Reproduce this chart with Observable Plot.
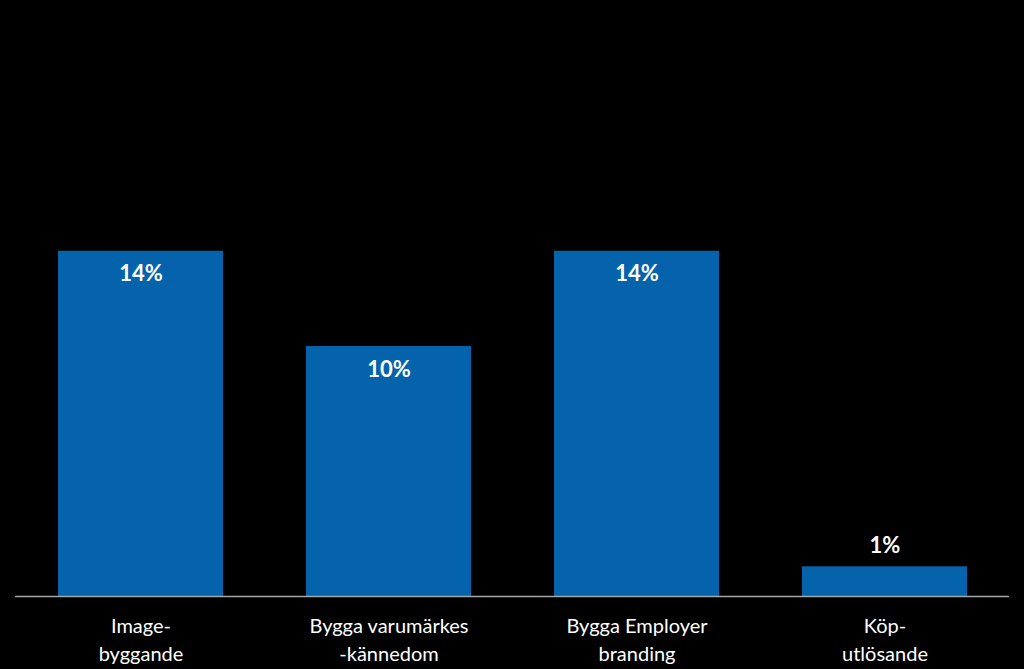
<!DOCTYPE html>
<html>
<head>
<meta charset="utf-8">
<script src="https://cdn.jsdelivr.net/npm/d3@7"></script>
<script src="https://cdn.jsdelivr.net/npm/@observablehq/plot@0.6"></script>
<style>
  html, body { margin: 0; padding: 0; background: #000; }
  #chart svg { display: block; }
</style>
</head>
<body>
<div id="chart"></div>
<script>
const categories = ["Image-\nbyggande", "Bygga varumärkes\n-kännedom", "Bygga Employer\nbranding", "Köp-\nutlösande"];
const values = [0.1395, 0.101, 0.1395, 0.012];
const valueLabels = ["14%", "10%", "14%", "1%"];

const data = categories.map((c, i) => ({category: c, value: values[i], label: valueLabels[i]}));

const chart = Plot.plot({
  width: 1024,
  height: 669,
  marginLeft: 15,
  marginRight: 15,
  marginTop: 101,
  marginBottom: 73,
  style: {background: "#000", color: "#fff", fontFamily: "Lato, 'Open Sans', sans-serif"},
  x: {domain: categories, paddingInner: 0.335, paddingOuter: 0.17, label: null},
  y: {domain: [0, 0.2], axis: null},
  marks: [
    Plot.barY(data, {x: "category", y: "value", fill: "#0563AB"}),
    Plot.ruleY([0], {stroke: "#a6a6a6", strokeWidth: 1.5}),
    Plot.text(data.filter(d => d.value > 0.05), {x: "category", y: "value", text: "label", dy: 23, fill: "#fff", fontSize: 22, fontWeight: "bold"}),
    Plot.text(data.filter(d => d.value <= 0.05), {x: "category", y: "value", text: "label", dy: -21, fill: "#fff", fontSize: 22, fontWeight: "bold"}),
    Plot.axisX({tickSize: 0, tickPadding: 17, fontSize: 20, lineHeight: 1.4, fill: "#fff", label: null})
  ]
});
document.getElementById("chart").append(chart);
</script>
</body>
</html>
